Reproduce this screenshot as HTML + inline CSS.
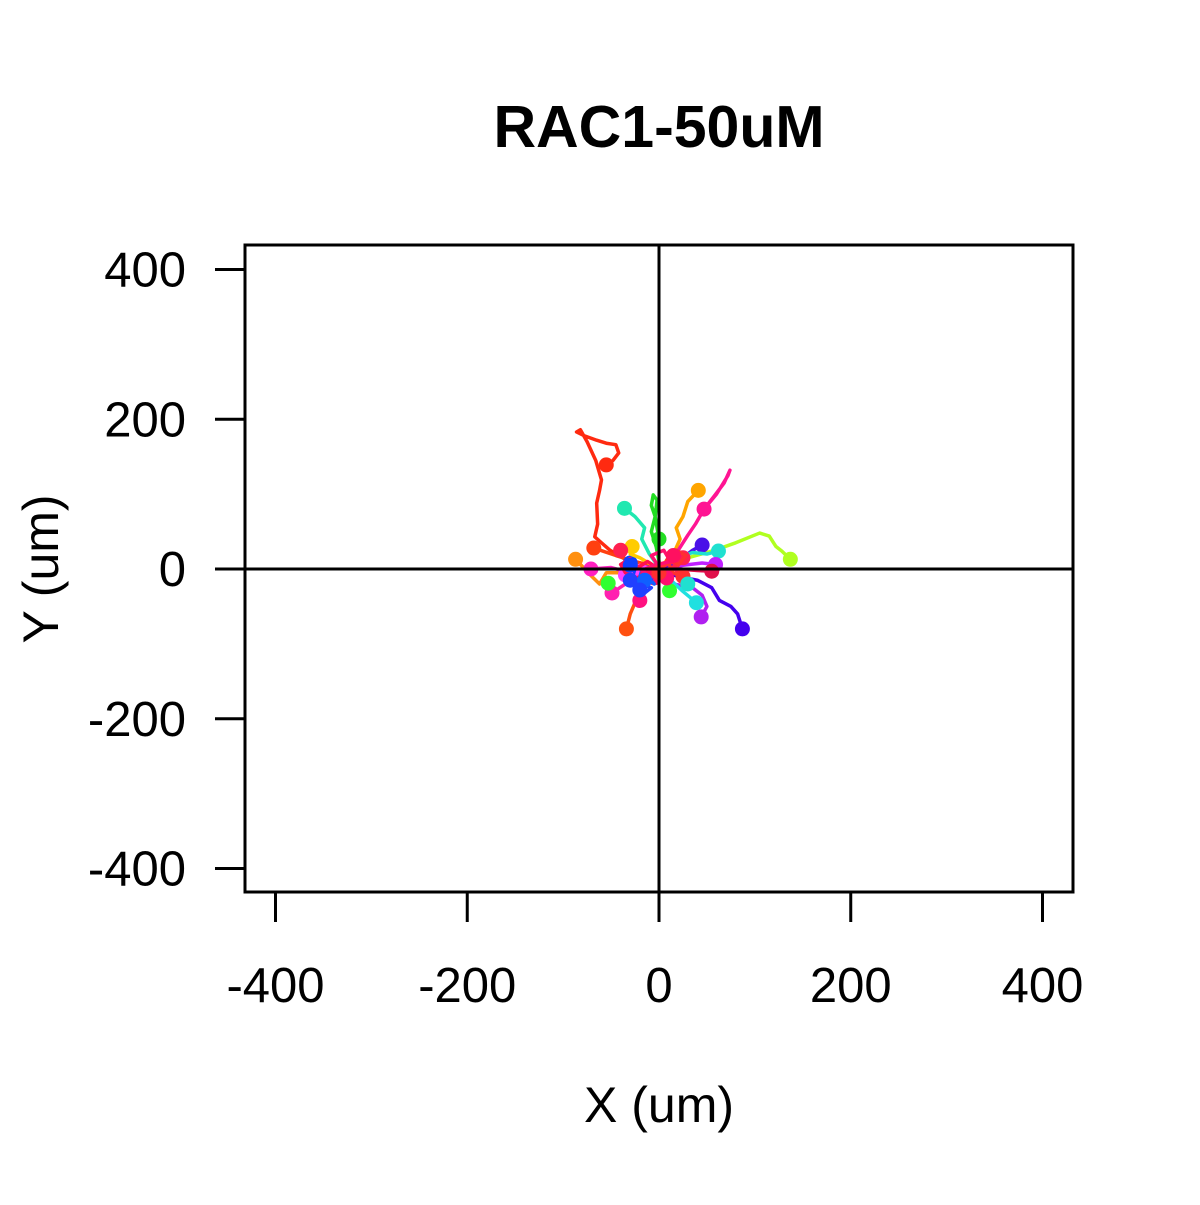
<!DOCTYPE html>
<html><head><meta charset="utf-8"><style>
body{margin:0;background:#fff}
svg text{font-family:"Liberation Sans",Arial,sans-serif;fill:#000}
</style></head><body>
<svg id="chart" width="1200" height="1200" xmlns="http://www.w3.org/2000/svg">
<rect width="1200" height="1200" fill="#fff"/>
<text x="659" y="147" font-size="59" font-weight="bold" text-anchor="middle">RAC1-50uM</text>
<g id="tracks"></g>
<line x1="245" y1="569" x2="1073" y2="569" stroke="#000" stroke-width="3"/>
<line x1="659" y1="245" x2="659" y2="892" stroke="#000" stroke-width="3"/>
<rect x="245" y="245" width="828" height="647" fill="none" stroke="#000" stroke-width="3"/>
<g id="axes"></g>
<text x="659" y="1122" font-size="50" text-anchor="middle">X (um)</text>
<text x="0" y="0" font-size="50" text-anchor="middle" transform="translate(58,569) rotate(-90)">Y (um)</text>
</svg>
<script>
const xTicks=[-400,-200,0,200,400];
const yTicks=[-400,-200,0,200,400];
const trackColors=["#ff2a10","#ffa500","#ff1493","#20e8b0","#22dd22","#b0ff20","#4a10e8","#20e0d0","#c020ff","#e0104a","#4400ee","#b020f0","#20e0e0","#ff5010","#ff9010","#ff20c0","#ff20b0","#ff4010","#1040ff","#ff1060","#ff1080","#30ff30","#1060ff","#ff2050","#ff40ff","#ffcc00","#ff1050","#ff3030","#2040ff","#ff1070"];
const tracks=[
 [[1,3],[-20,8],[-34,12],[-51,25],[-60,35],[-67,43],[-64,60],[-65,88],[-62,105],[-60,119],[-66,145],[-75,170],[-82,186],[-86,183],[-78,178],[-65,172],[-55,168],[-45,166],[-42,155],[-48,145],[-55,139]],
 [[3,5],[15,20],[22,40],[18,55],[25,70],[30,90],[41,105]],
 [[3,3],[20,25],[30,45],[38,60],[47,80],[58,98],[68,115],[74,132],[72,125],[60,100],[47,80]],
 [[0,2],[-10,20],[-18,40],[-15,55],[-25,70],[-36,81]],
 [[1,4],[-3,30],[-8,50],[-4,70],[-8,85],[-6,99],[-2,92],[-4,70],[0,40]],
 [[4,2],[30,15],[58,25],[80,35],[105,48],[115,44],[122,30],[128,24],[137,13]],
 [[5,0],[20,10],[35,25],[45,32]],
 [[5,5],[20,15],[35,22],[50,20],[62,24]],
 [[3,-2],[25,5],[45,8],[59,6]],
 [[2,-1],[20,0],[40,-2],[55,-3]],
 [[0,-2],[20,-10],[40,-15],[55,-25],[63,-42],[75,-50],[82,-60],[87,-80]],
 [[0,-3],[15,-20],[35,-25],[45,-35],[50,-50],[44,-64]],
 [[2,-5],[15,-18],[25,-30],[39,-45]],
 [[-2,-2],[-10,-15],[-18,-30],[-25,-45],[-30,-60],[-34,-80]],
 [[-5,0],[-30,-5],[-55,-5],[-62,-20],[-70,-10],[-87,13]],
 [[-5,2],[-30,-5],[-50,2],[-71,0]],
 [[-5,-3],[-20,-10],[-35,-20],[-49,-32]],
 [[-3,3],[-25,10],[-45,18],[-68,28]],
 [[0,0],[-15,3],[-25,-5],[-30,8]],
 [[2,2],[-10,-8],[-20,-5],[-12,-20],[-5,-12]],
 [[0,0],[-8,-15],[-15,-25],[-20,-42]],
 [[2,-2],[8,-15],[11,-29]],
 [[0,-2],[-10,-15],[-5,-20],[-15,-5]],
 [[0,1],[15,10],[20,-8],[10,-3],[25,15]],
 [[-2,-2],[-20,5],[-25,-15],[-35,-8]],
 [[0,0],[-20,15],[-30,20],[-28,30]],
 [[0,0],[-12,10],[-22,2],[-30,14],[-40,6],[-35,-5],[-25,-12],[-12,-8]],
 [[3,2],[12,15],[20,5],[28,18],[18,25],[8,12],[15,-5],[25,-10]],
 [[-2,-3],[-12,-20],[-25,-28],[-18,-35],[-8,-25],[-30,-15]],
 [[1,1],[-8,18],[5,25],[12,10],[-5,5],[-18,-2],[-10,-10],[8,-12]]
];
const extraDots=[[-53,-19,21],[-30,5,18],[-15,-15,22],[-40,25,23],[15,18,19],[30,-20,7],[-20,-28,28],[0,-5,27]];
const NS="http://www.w3.org/2000/svg";
const sx=v=>659+v*383.5/400;
const sy=v=>569-v*299.5/400;
const g=document.getElementById('tracks');
tracks.forEach((t,i)=>{
  const p=document.createElementNS(NS,'polyline');
  p.setAttribute('points',t.map(q=>sx(q[0])+','+sy(q[1])).join(' '));
  p.setAttribute('fill','none');p.setAttribute('stroke',trackColors[i]);p.setAttribute('stroke-width','3.5');p.setAttribute('stroke-linejoin','round');
  
  
  g.appendChild(p);
  const e=t[t.length-1];
  const c=document.createElementNS(NS,'circle');
  c.setAttribute('cx',sx(e[0]));c.setAttribute('cy',sy(e[1]));c.setAttribute('r','7.5');c.setAttribute('fill',trackColors[i]);
  
  
  g.appendChild(c);
});
extraDots.forEach(d=>{
  const c=document.createElementNS(NS,'circle');
  c.setAttribute('cx',sx(d[0]));c.setAttribute('cy',sy(d[1]));c.setAttribute('r','7.5');c.setAttribute('fill',trackColors[d[2]]);
  
  
  g.appendChild(c);
});
const a=document.getElementById('axes');
xTicks.forEach(v=>{
  const l=document.createElementNS(NS,'line');
  l.setAttribute('x1',sx(v));l.setAttribute('x2',sx(v));l.setAttribute('y1',892);l.setAttribute('y2',922);l.setAttribute('stroke','#000');l.setAttribute('stroke-width','3');
  
  
  a.appendChild(l);
  const t=document.createElementNS(NS,'text');
  t.setAttribute('x',sx(v));t.setAttribute('y',1002);t.setAttribute('font-size','49');t.setAttribute('text-anchor','middle');t.textContent=v;
  
  
  a.appendChild(t);
});
yTicks.forEach(v=>{
  const l=document.createElementNS(NS,'line');
  l.setAttribute('x1',215);l.setAttribute('x2',245);l.setAttribute('y1',sy(v));l.setAttribute('y2',sy(v));l.setAttribute('stroke','#000');l.setAttribute('stroke-width','3');
  
  
  a.appendChild(l);
  const t=document.createElementNS(NS,'text');
  t.setAttribute('x',186);t.setAttribute('y',sy(v)+17);t.setAttribute('font-size','49');t.setAttribute('text-anchor','end');t.textContent=v;
  
  
  a.appendChild(t);
});
</script>
</body></html>
